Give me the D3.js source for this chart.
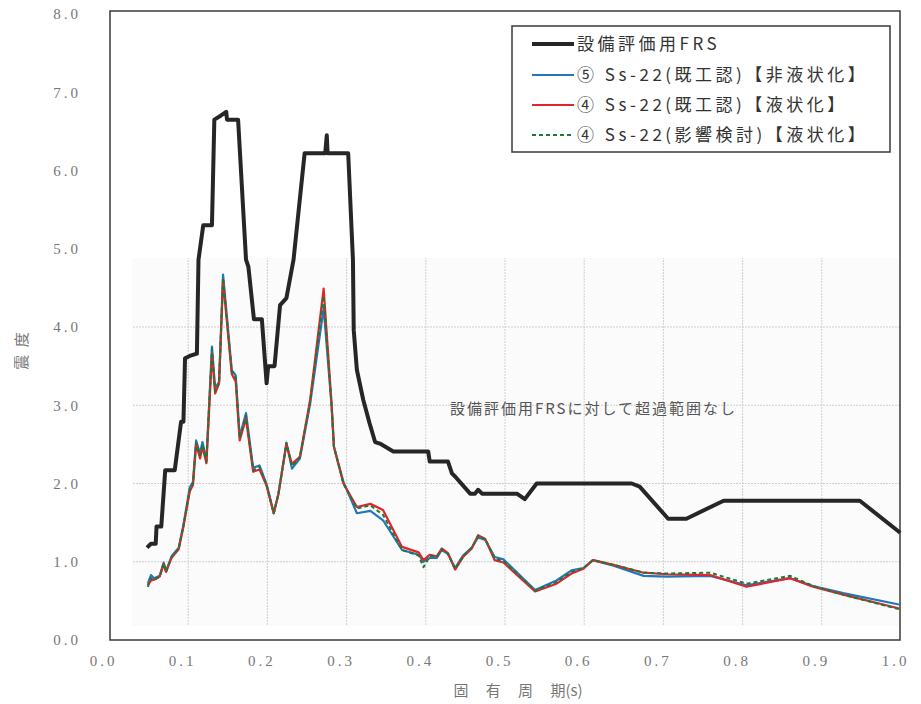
<!DOCTYPE html>
<html><head><meta charset="utf-8">
<script src="https://cdn.jsdelivr.net/npm/d3@7"></script>
<style>body{margin:0;background:#fff;}svg{display:block;}</style>
</head><body>
<svg id="c" width="921" height="704"></svg>
<script>
// ---- data ----
const frsPeriod = [0.048,0.053,0.059,0.060,0.066,0.071,0.083,0.091,0.094,0.096,0.102,0.111,0.113,0.119,0.130,0.133,0.141,0.148,0.149,0.163,0.173,0.176,0.183,0.193,0.199,0.201,0.209,0.216,0.224,0.233,0.247,0.273,0.275,0.276,0.302,0.308,0.309,0.313,0.321,0.329,0.336,0.342,0.359,0.403,0.405,0.428,0.433,0.437,0.456,0.462,0.466,0.471,0.515,0.525,0.540,0.660,0.670,0.706,0.729,0.776,0.948,0.999];
const frsValue  = [1.18,1.23,1.23,1.45,1.45,2.17,2.17,2.79,2.79,3.60,3.63,3.66,4.86,5.30,5.30,6.65,6.70,6.75,6.65,6.65,4.86,4.77,4.10,4.10,3.28,3.50,3.50,4.28,4.37,4.86,6.22,6.22,6.45,6.22,6.22,4.86,3.96,3.45,3.07,2.77,2.53,2.51,2.41,2.41,2.28,2.28,2.13,2.09,1.87,1.87,1.92,1.87,1.87,1.80,2.00,2.00,1.96,1.55,1.55,1.78,1.78,1.37];

const casePeriod = [0.049,0.053,0.057,0.064,0.069,0.072,0.079,0.088,0.094,0.102,0.106,0.110,0.115,0.118,0.123,0.130,0.134,0.139,0.144,0.155,0.160,0.165,0.173,0.182,0.190,0.199,0.208,0.214,0.224,0.231,0.241,0.254,0.271,0.281,0.284,0.296,0.313,0.330,0.346,0.370,0.391,0.397,0.405,0.414,0.420,0.428,0.437,0.447,0.458,0.466,0.475,0.487,0.498,0.538,0.565,0.584,0.599,0.611,0.637,0.675,0.704,0.759,0.805,0.860,0.889,0.927,0.999];
const case5NonLiq = [0.72,0.83,0.79,0.82,0.99,0.88,1.07,1.18,1.47,1.95,2.02,2.55,2.38,2.53,2.30,3.75,3.22,3.30,4.67,3.45,3.38,2.60,2.90,2.20,2.23,1.99,1.62,1.87,2.52,2.19,2.32,3.02,4.24,3.00,2.47,2.02,1.62,1.65,1.53,1.15,1.09,1.00,1.05,1.05,1.15,1.10,0.92,1.08,1.18,1.31,1.28,1.06,1.03,0.64,0.76,0.89,0.92,1.02,0.95,0.82,0.81,0.82,0.70,0.79,0.69,0.60,0.45];
const case4Liq    = [0.70,0.76,0.77,0.81,0.97,0.87,1.05,1.16,1.45,1.90,1.98,2.50,2.32,2.47,2.26,3.66,3.15,3.28,4.60,3.40,3.30,2.55,2.83,2.15,2.18,1.97,1.62,1.87,2.50,2.25,2.34,3.07,4.49,3.02,2.47,2.00,1.70,1.74,1.66,1.19,1.12,1.02,1.09,1.07,1.17,1.11,0.90,1.06,1.17,1.34,1.29,1.02,0.99,0.62,0.72,0.85,0.91,1.02,0.96,0.86,0.84,0.83,0.68,0.79,0.68,0.58,0.40];
const case4Study  = [0.68,0.79,0.77,0.81,0.98,0.87,1.06,1.17,1.46,1.92,2.00,2.52,2.36,2.50,2.28,3.72,3.18,3.28,4.63,3.43,3.35,2.58,2.87,2.17,2.21,1.98,1.62,1.87,2.52,2.22,2.34,3.05,4.40,3.01,2.47,2.00,1.68,1.72,1.60,1.15,1.08,0.93,1.07,1.07,1.16,1.10,0.91,1.07,1.18,1.33,1.29,1.04,1.01,0.63,0.74,0.87,0.92,1.02,0.96,0.86,0.85,0.86,0.72,0.82,0.69,0.58,0.39];

const xTicks = [0,0.1,0.2,0.3,0.4,0.5,0.6,0.7,0.8,0.9,1.0];
const yTicks = [0,1,2,3,4,5,6,7,8];
const legendLabels = ["設備評価用FRS","⑤ Ss-22(既工認)【非液状化】","④ Ss-22(既工認)【液状化】","④ Ss-22(影響検討)【液状化】"];
const xTitle = "固 有 周 期(s)";
const yTitle = "震 度";
const note = "設備評価用FRSに対して超過範囲なし";

// ---- drawing ----
const svg = d3.select("#c");
const x = d3.scaleLinear().domain([0,1]).range([109,901]);
const y = d3.scaleLinear().domain([0,8]).range([640,14]);
const CJK = "'Noto Sans CJK JP','Noto Sans',sans-serif";
const NUM = "'Liberation Serif','DejaVu Serif',serif";

// scanned light region with grid
svg.append("rect").attr("x",132).attr("y",258).attr("width",768).attr("height",368).attr("fill","#fbfbfb");
svg.append("clipPath").attr("id","gc").append("rect").attr("x",132).attr("y",258).attr("width",768).attr("height",368);
const grid = svg.append("g").attr("clip-path","url(#gc)");
grid.selectAll("line.v").data(xTicks).join("line")
  .attr("x1",d=>x(d)).attr("x2",d=>x(d)).attr("y1",y(8)).attr("y2",y(0))
  .attr("stroke","#cfcfcf").attr("stroke-width",1).attr("stroke-dasharray","2,1");
grid.selectAll("line.h").data(yTicks).join("line")
  .attr("y1",d=>y(d)).attr("y2",d=>y(d)).attr("x1",x(0)).attr("x2",x(1))
  .attr("stroke","#cfcfcf").attr("stroke-width",1).attr("stroke-dasharray","2,1");

// frame
svg.append("rect").attr("x",110).attr("y",11).attr("width",790).attr("height",629)
  .attr("fill","none").attr("stroke","#3a3a3a").attr("stroke-width",1.5);

// axes (labels only)
const xAxis = d3.axisBottom(x).tickValues(xTicks).tickSize(0).tickFormat(d3.format(".1f"));
const gx = svg.append("g").attr("transform","translate(-6,652)").call(xAxis);
gx.select(".domain").remove();
gx.selectAll("text").attr("font-family",NUM).attr("font-size",15).attr("fill","#777").attr("letter-spacing","3px");
const yAxis = d3.axisLeft(y).tickValues(yTicks).tickSize(0).tickFormat(d3.format(".1f"));
const gy = svg.append("g").attr("transform","translate(84,0)").call(yAxis);
gy.select(".domain").remove();
gy.selectAll("text").attr("font-family",NUM).attr("font-size",15).attr("fill","#777").attr("letter-spacing","3px");

svg.append("text").attr("x",518).attr("y",696).attr("text-anchor","middle")
  .attr("font-family",CJK).attr("font-size",15).attr("fill","#777").attr("word-spacing","14px").text(xTitle);
svg.append("text").attr("transform","translate(27,350) rotate(-90)").attr("text-anchor","middle")
  .attr("font-family",CJK).attr("font-size",15).attr("fill","#777").attr("letter-spacing","2px").text(yTitle);

// lines
const line = d3.line().x(d=>x(d[0])).y(d=>y(d[1]));
const zipc = vals => casePeriod.map((p,i)=>[p,vals[i]]);
svg.append("path").datum(zipc(case5NonLiq)).attr("d",line).attr("fill","none")
  .attr("stroke","#2176c0").attr("stroke-width",2.2).attr("stroke-linejoin","round");
svg.append("path").datum(zipc(case4Liq)).attr("d",line).attr("fill","none")
  .attr("stroke","#e0252e").attr("stroke-width",2.2).attr("stroke-linejoin","round");
svg.append("path").datum(zipc(case4Study)).attr("d",line).attr("fill","none")
  .attr("stroke","#1e7a2e").attr("stroke-width",2).attr("stroke-dasharray","4,3").attr("stroke-linejoin","round");
svg.append("path").datum(frsPeriod.map((p,i)=>[p,frsValue[i]])).attr("d",line).attr("fill","none")
  .attr("stroke","#262626").attr("stroke-width",4).attr("stroke-linejoin","round");

// annotation
svg.append("text").attr("x",450).attr("y",414).attr("font-family",CJK).attr("font-size",15)
  .attr("fill","#555").attr("letter-spacing","2px").text(note);

// legend
svg.append("rect").attr("x",512).attr("y",26).attr("width",378).attr("height",126)
  .attr("fill","#fff").attr("stroke","#3a3a3a").attr("stroke-width",1.5);
const lg = [
  {c:"#262626",w:4,dash:null},
  {c:"#2176c0",w:2.2,dash:null},
  {c:"#e0252e",w:2.2,dash:null},
  {c:"#1e7a2e",w:2.2,dash:"4,3"}
];
const rowsY = [44,75,105,135];
lg.forEach((s,i)=>{
  svg.append("line").attr("x1",532).attr("x2",574).attr("y1",rowsY[i]).attr("y2",rowsY[i])
    .attr("stroke",s.c).attr("stroke-width",s.w).attr("stroke-dasharray",s.dash);
  svg.append("text").attr("x",577).attr("y",rowsY[i]+6).attr("font-family",CJK).attr("font-size",17)
    .attr("fill","#333").attr("letter-spacing","3.5px").text(legendLabels[i]);
});
</script>
</body></html>
